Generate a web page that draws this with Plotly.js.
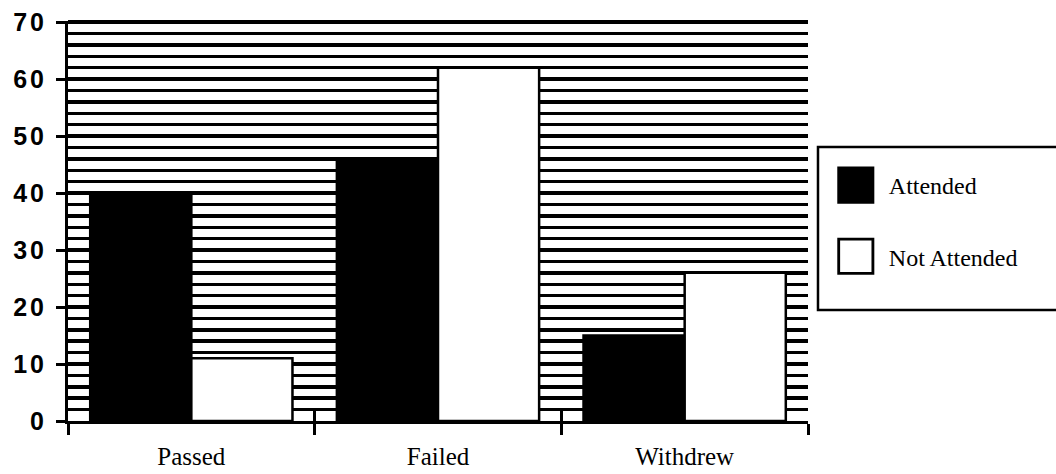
<!DOCTYPE html>
<html>
<head>
<meta charset="utf-8">
<script src="https://cdn.plot.ly/plotly-3.0.1.min.js"></script>
<style>
  html, body { margin: 0; padding: 0; background: #fff; }
  #chart { width: 1056px; height: 474px; }
  .ytick text { letter-spacing: 3px; }
</style>
</head>
<body>
<div id="chart"></div>
<script>
const categories = ["Passed", "Failed", "Withdrew"];
const attended = [40, 46, 15];
const notAttended = [11, 62, 26];
const yTicks = [0, 10, 20, 30, 40, 50, 60, 70];

const traces = [
  {
    type: "bar", name: "Attended", x: categories, y: attended,
    legendgroup: "a",
    marker: { color: "#000000", line: { color: "#000000", width: 2.5 } },
    hoverinfo: "x+y+name"
  },
  {
    type: "bar", name: "Not Attended", x: categories, y: notAttended,
    legendgroup: "b",
    marker: { color: "#ffffff", line: { color: "#000000", width: 2.5 } },
    hoverinfo: "x+y+name"
  },
  {
    // invisible companion so the overlaid axis with upward boundary ticks is drawn
    type: "bar", x: categories, y: categories.map(() => 0), xaxis: "x2", yaxis: "y",
    showlegend: false, hoverinfo: "skip", marker: { color: "rgba(0,0,0,0)" }
  }
];

const layout = {
  width: 1056, height: 474,
  margin: { l: 68, r: 248, t: 21, b: 53, pad: 0 },
  paper_bgcolor: "#ffffff", plot_bgcolor: "#ffffff",
  barmode: "group", bargap: 0.18, bargroupgap: 0,
  showlegend: true,
  legend: {
    x: 1.02, xanchor: "left", y: 0.645, yanchor: "top",
    traceorder: "grouped", tracegroupgap: 37,
    font: { family: "Liberation Serif, Times New Roman, serif", size: 24, color: "#000" },
    bgcolor: "rgba(0,0,0,0)", borderwidth: 0, itemwidth: 56
  },
  xaxis: {
    type: "category", range: [-0.5, 2.5], fixedrange: true,
    showline: true, linecolor: "#000", linewidth: 3,
    ticks: "outside", tickson: "boundaries", ticklen: 11, tickwidth: 3, tickcolor: "#000",
    showgrid: false, zeroline: false,
    tickfont: { family: "Liberation Serif, Times New Roman, serif", size: 25, color: "#000" },
    ticklabelstandoff: 11
  },
  xaxis2: {
    type: "category", range: [-0.5, 2.5], overlaying: "x", anchor: "y", side: "bottom",
    matches: "x", showticklabels: false, showline: false,
    ticks: "inside", tickson: "boundaries", ticklen: 10, tickwidth: 3, tickcolor: "#000",
    showgrid: false, zeroline: false
  },
  yaxis: {
    range: [0, 70.2], fixedrange: true,
    tickmode: "array", tickvals: yTicks, ticktext: yTicks.map(String),
    showline: true, linecolor: "#000", linewidth: 3,
    ticks: "outside", ticklen: 9, tickwidth: 3, tickcolor: "#000",
    showgrid: true, gridcolor: "#000", gridwidth: 3.5,
    zeroline: false,
    minor: { tickmode: "linear", tick0: 0, dtick: 2, showgrid: true, gridcolor: "#000", gridwidth: 3.5, ticks: "" },
    tickfont: { family: "Liberation Sans, Arial, sans-serif", size: 25, color: "#000", weight: "bold" },
    ticklabelstandoff: 4
  },
  shapes: [
    {
      type: "rect", xref: "paper", yref: "paper",
      x0: 1.0135, x1: 1.5, y0: 0.2775, y1: 0.685,
      line: { color: "#000", width: 2.5 }, fillcolor: "rgba(0,0,0,0)", layer: "above"
    }
  ]
};

Plotly.newPlot("chart", traces, layout, { displayModeBar: false, staticPlot: true }).then(gd => {
  // enlarge the legend swatches to the large squares of the original
  gd.querySelectorAll(".legend .legendpoints path").forEach(p => {
    const t = p.getAttribute("transform") || "";
    p.setAttribute("transform", t + " scale(2.85)");
    p.style.strokeWidth = "1px";
  });
});
</script>
</body>
</html>
